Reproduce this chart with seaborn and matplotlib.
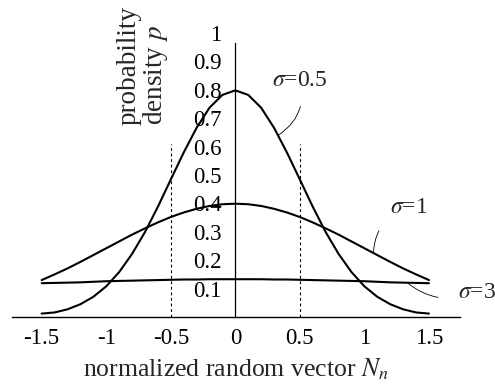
import numpy as np
import pandas as pd
import seaborn as sns
import matplotlib
matplotlib.use("Agg")
import matplotlib.pyplot as plt

# Normalized random vector positions
x_vals = [-1.5, -1.4, -1.3, -1.2, -1.1, -1.0, -0.9, -0.8, -0.7, -0.6, -0.5,
          -0.4, -0.3, -0.2, -0.1, 0.0, 0.1, 0.2, 0.3, 0.4, 0.5,
          0.6, 0.7, 0.8, 0.9, 1.0, 1.1, 1.2, 1.3, 1.4, 1.5]

# Probability density for each spread
p_sigma_05 = [0.012, 0.016, 0.027, 0.045, 0.071, 0.108, 0.158, 0.222, 0.299, 0.388, 0.484,
              0.579, 0.666, 0.737, 0.782, 0.798, 0.782, 0.737, 0.666, 0.579, 0.484,
              0.388, 0.299, 0.222, 0.158, 0.108, 0.071, 0.045, 0.027, 0.016, 0.012]
p_sigma_1 = [0.130, 0.150, 0.171, 0.194, 0.218, 0.242, 0.266, 0.290, 0.312, 0.333, 0.352,
             0.368, 0.381, 0.391, 0.397, 0.399, 0.397, 0.391, 0.381, 0.368, 0.352,
             0.333, 0.312, 0.290, 0.266, 0.242, 0.218, 0.194, 0.171, 0.150, 0.130]
p_sigma_3 = [0.119, 0.120, 0.121, 0.122, 0.124, 0.126, 0.127, 0.128, 0.129, 0.130, 0.131,
             0.132, 0.132, 0.133, 0.133, 0.133, 0.133, 0.133, 0.132, 0.132, 0.131,
             0.130, 0.129, 0.128, 0.127, 0.126, 0.124, 0.122, 0.121, 0.120, 0.119]

x_ticks = [-1.5, -1, -0.5, 0, 0.5, 1, 1.5]
x_tick_labels = ["-1.5", "-1", "-0.5", "0", "0.5", "1", "1.5"]
y_ticks = [0.1, 0.2, 0.3, 0.4, 0.5, 0.6, 0.7, 0.8, 0.9, 1.0]
y_tick_labels = ["0.1", "0.2", "0.3", "0.4", "0.5", "0.6", "0.7", "0.8", "0.9", "1"]

df = pd.concat([
    pd.DataFrame({"x": x_vals, "p": p_sigma_05, "sigma": "0.5"}),
    pd.DataFrame({"x": x_vals, "p": p_sigma_1, "sigma": "1"}),
    pd.DataFrame({"x": x_vals, "p": p_sigma_3, "sigma": "3"}),
])

sns.set_theme(style="white")
plt.rcParams["font.family"] = ["Liberation Serif", "DejaVu Serif"]
plt.rcParams["mathtext.fontset"] = "stix"

fig = plt.figure(figsize=(4.95, 3.88), dpi=100)
ax = fig.add_axes([0.0242, 0.183, 0.905, 0.7466])

sns.lineplot(data=df, x="x", y="p", hue="sigma", units="sigma", estimator=None,
             palette=["black", "black", "black"], linewidth=1.5, legend=False,
             sort=False, ax=ax)

ax.set_xlim(-1.73, 1.74)
ax.set_ylim(0, 1.02)

# Dashed guides at +/- 0.5
for xv in (-0.5, 0.5):
    ax.plot([xv, xv], [0, 0.61], color="black", lw=0.8, ls=(0, (2.5, 2.5)))

# Axis lines
for s in ("top", "right"):
    ax.spines[s].set_visible(False)
ax.spines["left"].set_position(("data", 0))
ax.spines["left"].set_bounds(0, 0.965)
ax.spines["left"].set_linewidth(0.9)
ax.spines["bottom"].set_linewidth(1.0)
ax.spines["left"].set_color("black")
ax.spines["bottom"].set_color("black")

ax.set_xticks(x_ticks)
ax.set_xticklabels(x_tick_labels, fontsize=16.5)
ax.set_yticks(y_ticks)
ax.set_yticklabels(y_tick_labels, fontsize=16.5)
ax.tick_params(axis="y", direction="in", length=4, width=0.7, pad=10, colors="black")
ax.tick_params(axis="x", direction="in", length=3, width=0.7, pad=8, colors="black")
for lbl in ax.get_yticklabels():
    lbl.set_horizontalalignment("right")

ax.set_xlabel(r"normalized random vector $N_n$", fontsize=18.5, labelpad=5)
ax.set_ylabel("")
fig.text(0.29, 0.83, "probability\ndensity $p$", rotation=90, fontsize=19.5,
         ha="center", va="center", multialignment="left", linespacing=0.95)

# Curve labels with leader lines
ax.annotate(r"$\sigma$=0.5", xy=(0.333, 0.64), xytext=(0.50, 0.834),
            fontsize=17, ha="center", va="center",
            arrowprops=dict(arrowstyle="-", lw=0.6, color="black",
                            connectionstyle="arc3,rad=-0.35",
                            shrinkA=9, shrinkB=0))
ax.annotate(r"$\sigma$=1", xy=(1.07, 0.225), xytext=(1.34, 0.384),
            fontsize=17, ha="center", va="center",
            arrowprops=dict(arrowstyle="-", lw=0.6, color="black",
                            connectionstyle="arc3,rad=0.35",
                            shrinkA=9, shrinkB=0))
ax.annotate(r"$\sigma$=3", xy=(1.33, 0.121), xytext=(1.87, 0.088),
            fontsize=17, ha="center", va="center", annotation_clip=False,
            arrowprops=dict(arrowstyle="-", lw=0.6, color="black",
                            connectionstyle="arc3,rad=-0.3",
                            shrinkA=12, shrinkB=0))

fig.savefig("out.png", dpi=100)
